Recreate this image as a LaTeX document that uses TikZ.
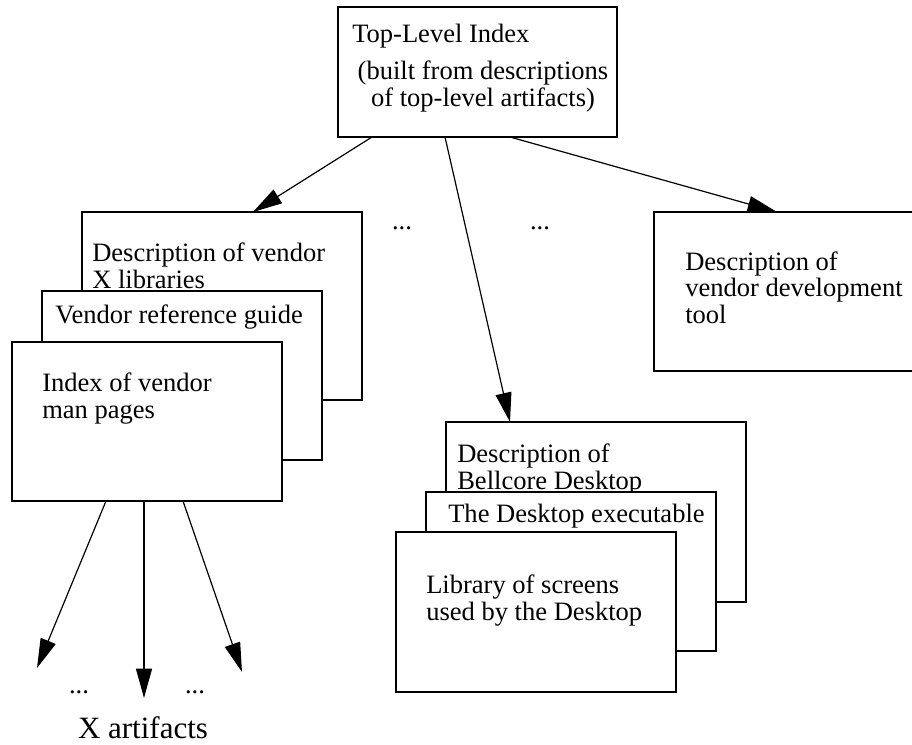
\documentclass[tikz,border=0pt]{standalone}
\usepackage{fontspec}
\setmainfont{Liberation Serif}
\usetikzlibrary{arrows.meta, positioning}

\begin{document}
\begin{tikzpicture}[
    x=0.75pt, y=-0.75pt,
    card/.style={rectangle, draw=black, fill=white, line width=1pt, inner sep=0pt, outer sep=0pt, anchor=north west},
    cardtext/.style={anchor=base west, inner sep=0pt, align=left, font=\fontsize{19.9}{19.6}\selectfont},
    dots/.style={anchor=base, inner sep=0pt, font=\fontsize{19.9}{19.6}\selectfont},
    arrow/.style={line width=0.9pt, -{Triangle[length=22pt, width=12pt]}}
]
\useasboundingbox (0,0) rectangle (912,744);

% Top level index
\node (top_index) [card, minimum width=209.25pt, minimum height=97.5pt] at (338,7) {};
\node (top_title) [cardtext] at (352,42) {Top-Level Index};
\node (top_note) [cardtext, anchor=base, align=center] at (483,106) {(built from descriptions\\of top-level artifacts)};

% Vendor X libraries stack
\node (lib_desc) [card, minimum width=210pt, minimum height=141pt] at (82,212) {};
\node (lib_desc_text) [cardtext] at (92,288) {Description of vendor\\X libraries};
\node (ref_guide) [card, minimum width=210pt, minimum height=126.75pt] at (42,291) {};
\node (ref_guide_text) [cardtext] at (55,323) {Vendor reference guide};
\node (man_index) [card, minimum width=202.5pt, minimum height=119.25pt] at (12,342) {};
\node (man_index_text) [cardtext] at (42,418) {Index of vendor\\man pages};

% Development tool
\node (dev_tool) [card, minimum width=196.5pt, minimum height=119.25pt] at (654,212) {};
\node (dev_tool_text) [cardtext] at (685,323) {Description of\\vendor development\\tool};

% Bellcore Desktop stack
\node (desk_desc) [card, minimum width=225pt, minimum height=135pt] at (446,422) {};
\node (desk_desc_text) [cardtext] at (457,489) {Description of\\Bellcore Desktop};
\node (desk_exe) [card, minimum width=217.5pt, minimum height=119.25pt] at (426,492) {};
\node (desk_exe_text) [cardtext] at (448,522) {The Desktop executable};
\node (desk_screens) [card, minimum width=210pt, minimum height=120pt] at (396,532) {};
\node (desk_screens_text) [cardtext] at (426,620) {Library of screens\\used by the Desktop};

% Ellipses and artifacts
\node (dots_a) [dots] at (402,229) {...};
\node (dots_b) [dots] at (540,229) {...};
\node (dots_c) [dots] at (79,693) {...};
\node (dots_d) [dots] at (195,693) {...};
\node (x_artifacts) [anchor=base, inner sep=0pt, font=\fontsize{23.25}{23.25}\selectfont] at (143,738) {X artifacts};

\coordinate (art_left) at (37,668);
\coordinate (art_mid) at (144,698);
\coordinate (art_right) at (242,672);

% Arrows
\draw [arrow] ([shift={(34,0)}]top_index.south west) -- ([shift={(171,0)}]lib_desc.north west);
\draw [arrow] ([shift={(107,0)}]top_index.south west) -- ([shift={(64,0)}]desk_desc.north west);
\draw [arrow] ([shift={(172,0)}]top_index.south west) -- ([shift={(123,0)}]dev_tool.north west);

\foreach \dx/\target in {94/art_left, 132/art_mid, 171/art_right} {
    \draw [arrow] ([shift={(\dx,0)}]man_index.south west) -- (\target);
}

\end{tikzpicture}
\end{document}
